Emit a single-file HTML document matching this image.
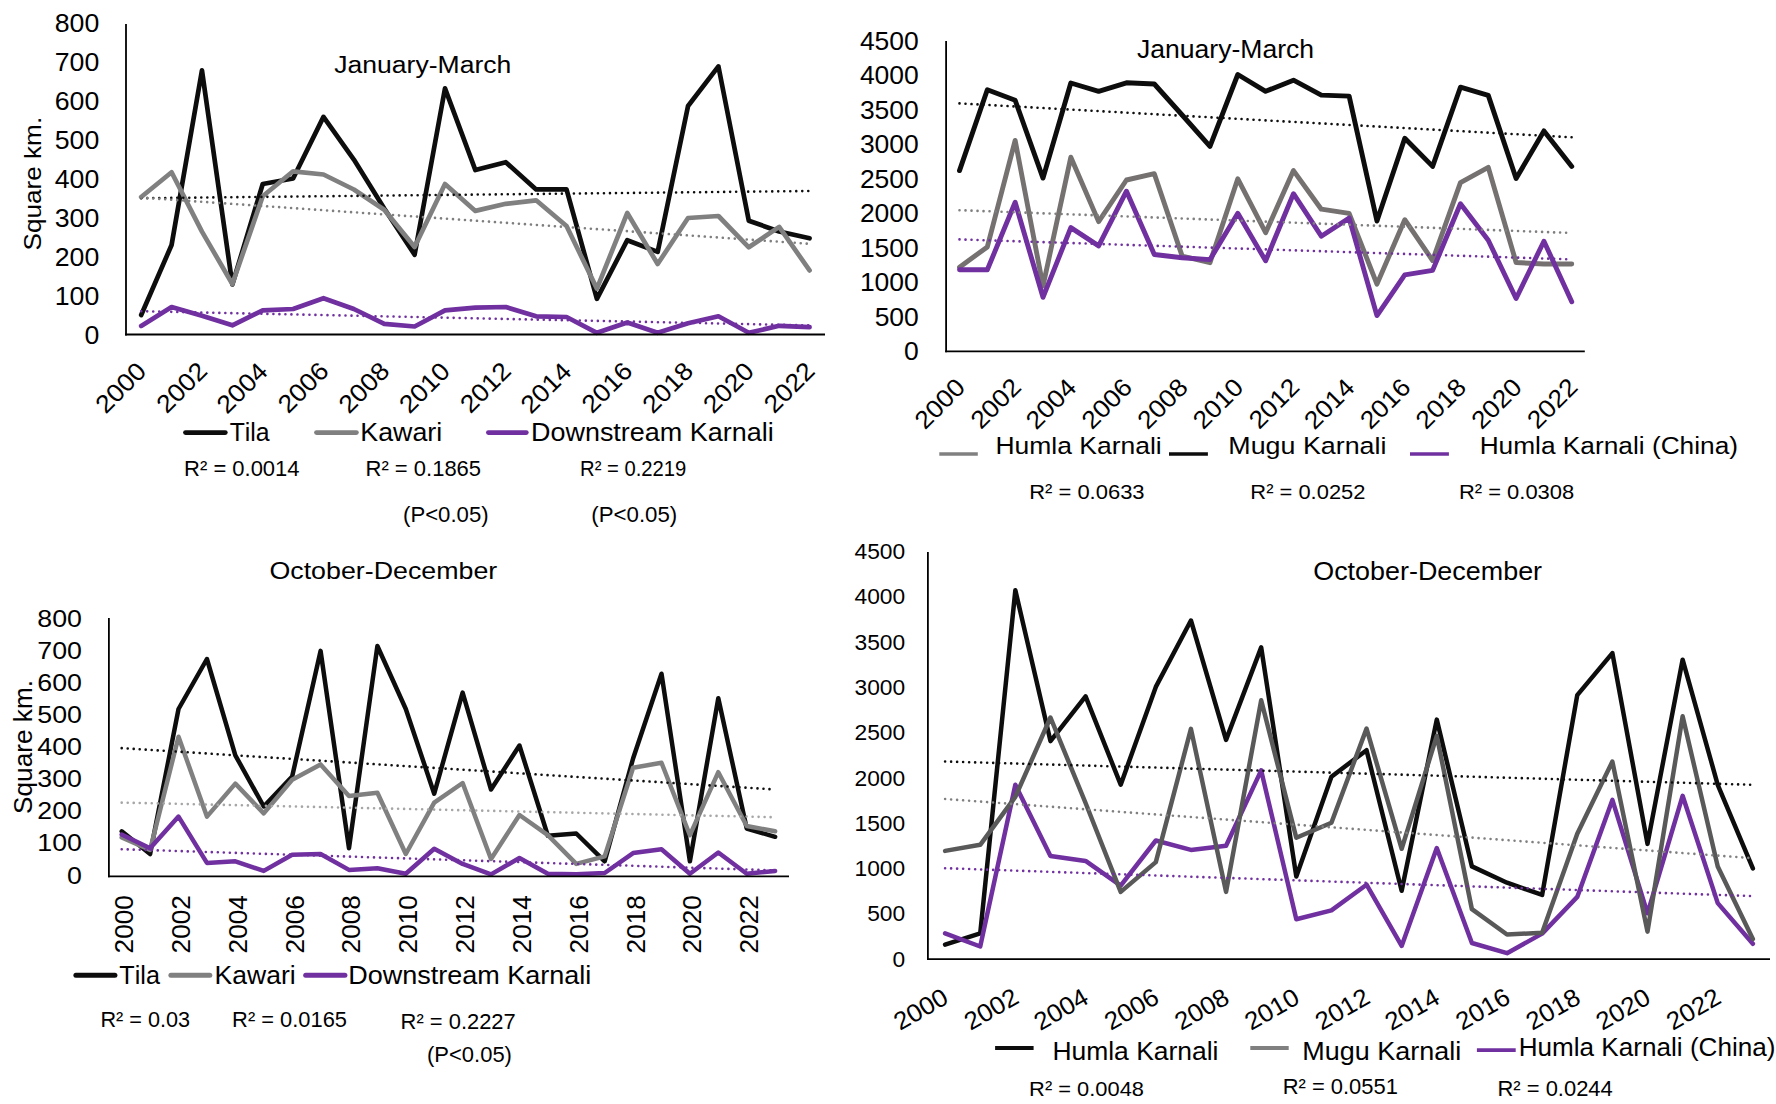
<!DOCTYPE html>
<html><head><meta charset="utf-8"><style>
html,body{margin:0;padding:0;background:#fff;}
svg{display:block;}
text{font-family:"Liberation Sans",sans-serif;font-kerning:none;}
</style></head><body>
<svg width="1776" height="1104" viewBox="0 0 1776 1104">
<rect width="1776" height="1104" fill="#fff"/>
<polyline points="141.20,315.00 171.58,245.00 201.96,70.40 232.34,284.50 262.72,184.00 293.10,178.50 323.48,116.90 353.86,159.60 384.24,208.50 414.62,254.70 445.00,88.40 475.38,170.10 505.76,162.20 536.14,189.40 566.52,189.40 596.90,298.80 627.28,240.20 657.66,251.90 688.04,106.00 718.42,66.40 748.80,220.70 779.18,231.50 809.56,238.30" fill="none" stroke="#0d0d0d" stroke-width="4.7" stroke-linejoin="round" stroke-linecap="round"/>
<polyline points="141.20,197.00 171.58,172.30 201.96,231.60 232.34,284.00 262.72,196.30 293.10,171.30 323.48,174.50 353.86,189.50 384.24,209.80 414.62,247.00 445.00,184.00 475.38,210.90 505.76,203.80 536.14,200.30 566.52,226.00 596.90,288.60 627.28,213.00 657.66,264.00 688.04,218.00 718.42,216.00 748.80,247.30 779.18,226.90 809.56,270.40" fill="none" stroke="#808080" stroke-width="4.7" stroke-linejoin="round" stroke-linecap="round"/>
<polyline points="141.20,325.90 171.58,307.10 201.96,315.80 232.34,325.30 262.72,310.40 293.10,309.00 323.48,298.20 353.86,309.00 384.24,323.90 414.62,326.50 445.00,310.40 475.38,307.60 505.76,307.00 536.14,316.30 566.52,317.00 596.90,332.80 627.28,322.50 657.66,332.80 688.04,323.30 718.42,316.30 748.80,332.80 779.18,325.80 809.56,327.10" fill="none" stroke="#7030a0" stroke-width="4.7" stroke-linejoin="round" stroke-linecap="round"/>
<line x1="141.20" y1="198.20" x2="809.56" y2="191.00" stroke="#0d0d0d" stroke-width="2.6" stroke-linecap="round" stroke-dasharray="0.01 6.0"/>
<line x1="141.20" y1="197.60" x2="809.56" y2="243.80" stroke="#7f7f7f" stroke-width="2.6" stroke-linecap="round" stroke-dasharray="0.01 6.0"/>
<line x1="141.20" y1="311.20" x2="809.56" y2="325.40" stroke="#7030a0" stroke-width="2.6" stroke-linecap="round" stroke-dasharray="0.01 6.0"/>
<line x1="126.00" y1="24.10" x2="126.00" y2="335.40" stroke="#000" stroke-width="1.8" stroke-linecap="butt"/>
<line x1="125.10" y1="334.50" x2="825.00" y2="334.50" stroke="#000" stroke-width="1.8" stroke-linecap="butt"/>
<text transform="translate(54.74,31.60) scale(1.0667,1)" font-size="25.06" fill="#000">800</text>
<text transform="translate(54.74,70.59) scale(1.0667,1)" font-size="25.06" fill="#000">700</text>
<text transform="translate(54.74,109.58) scale(1.0667,1)" font-size="25.06" fill="#000">600</text>
<text transform="translate(54.74,148.57) scale(1.0667,1)" font-size="25.06" fill="#000">500</text>
<text transform="translate(54.74,187.56) scale(1.0667,1)" font-size="25.06" fill="#000">400</text>
<text transform="translate(54.74,226.55) scale(1.0667,1)" font-size="25.06" fill="#000">300</text>
<text transform="translate(54.74,265.54) scale(1.0667,1)" font-size="25.06" fill="#000">200</text>
<text transform="translate(54.74,304.53) scale(1.0667,1)" font-size="25.06" fill="#000">100</text>
<text transform="translate(84.48,343.52) scale(1.0667,1)" font-size="25.06" fill="#000">0</text>
<text transform="translate(105.78,414.72) rotate(-45) scale(1.0667,1)" font-size="25.06" fill="#000">2000</text>
<text transform="translate(166.76,414.50) rotate(-45) scale(1.0667,1)" font-size="25.06" fill="#000">2002</text>
<text transform="translate(227.12,414.90) rotate(-45) scale(1.0667,1)" font-size="25.06" fill="#000">2004</text>
<text transform="translate(288.16,414.62) rotate(-45) scale(1.0667,1)" font-size="25.06" fill="#000">2006</text>
<text transform="translate(348.91,414.63) rotate(-45) scale(1.0667,1)" font-size="25.06" fill="#000">2008</text>
<text transform="translate(409.58,414.72) rotate(-45) scale(1.0667,1)" font-size="25.06" fill="#000">2010</text>
<text transform="translate(470.56,414.50) rotate(-45) scale(1.0667,1)" font-size="25.06" fill="#000">2012</text>
<text transform="translate(530.92,414.90) rotate(-45) scale(1.0667,1)" font-size="25.06" fill="#000">2014</text>
<text transform="translate(591.96,414.62) rotate(-45) scale(1.0667,1)" font-size="25.06" fill="#000">2016</text>
<text transform="translate(652.71,414.63) rotate(-45) scale(1.0667,1)" font-size="25.06" fill="#000">2018</text>
<text transform="translate(713.38,414.72) rotate(-45) scale(1.0667,1)" font-size="25.06" fill="#000">2020</text>
<text transform="translate(774.36,414.50) rotate(-45) scale(1.0667,1)" font-size="25.06" fill="#000">2022</text>
<text transform="translate(40.50,250.49) rotate(-90) scale(1.0642,1)" font-size="24.56" fill="#000">Square km.</text>
<text transform="translate(334.28,72.60) scale(1.0878,1)" font-size="24.42" fill="#000">January-March</text>
<line x1="185.50" y1="432.60" x2="225.30" y2="432.60" stroke="#0d0d0d" stroke-width="4.8" stroke-linecap="round"/>
<line x1="316.50" y1="432.60" x2="356.40" y2="432.60" stroke="#808080" stroke-width="4.8" stroke-linecap="round"/>
<line x1="488.40" y1="432.60" x2="526.30" y2="432.60" stroke="#7030a0" stroke-width="4.8" stroke-linecap="round"/>
<text transform="translate(229.64,440.90) scale(0.9585,1)" font-size="25.87" fill="#000">Tila</text>
<text transform="translate(360.30,440.90) scale(1.0357,1)" font-size="25.87" fill="#000">Kawari</text>
<text transform="translate(530.99,440.90) scale(1.0425,1)" font-size="25.87" fill="#000">Downstream Karnali</text>
<text transform="translate(184.10,475.80) scale(0.9754,1)" font-size="22.53" fill="#000">R² = 0.0014</text>
<text transform="translate(365.49,475.80) scale(0.9770,1)" font-size="22.53" fill="#000">R² = 0.1865</text>
<text transform="translate(580.04,475.80) scale(0.8983,1)" font-size="22.53" fill="#000">R² = 0.2219</text>
<text transform="translate(403.03,521.80) scale(0.9969,1)" font-size="22.24" fill="#000">(P&lt;0.05)</text>
<text transform="translate(591.22,521.80) scale(1.0017,1)" font-size="22.24" fill="#000">(P&lt;0.05)</text>
<polyline points="959.50,267.20 987.33,246.90 1015.16,140.40 1042.99,286.00 1070.82,157.20 1098.65,221.60 1126.48,180.00 1154.31,173.70 1182.14,256.10 1209.97,262.70 1237.80,178.80 1265.63,232.70 1293.46,170.60 1321.29,209.20 1349.12,213.30 1376.95,284.10 1404.78,219.70 1432.61,260.50 1460.44,182.60 1488.27,167.40 1516.10,262.50 1543.93,264.00 1571.76,264.00" fill="none" stroke="#767171" stroke-width="4.9" stroke-linejoin="round" stroke-linecap="round"/>
<polyline points="959.50,170.60 987.33,89.70 1015.16,100.20 1042.99,178.10 1070.82,83.00 1098.65,91.30 1126.48,82.80 1154.31,84.00 1182.14,115.00 1209.97,146.40 1237.80,74.50 1265.63,91.30 1293.46,80.20 1321.29,95.10 1349.12,96.10 1376.95,221.00 1404.78,138.20 1432.61,166.40 1460.44,87.20 1488.27,95.40 1516.10,178.50 1543.93,130.90 1571.76,166.40" fill="none" stroke="#0d0d0d" stroke-width="4.9" stroke-linejoin="round" stroke-linecap="round"/>
<polyline points="959.50,269.80 987.33,269.80 1015.16,202.30 1042.99,297.30 1070.82,227.60 1098.65,245.90 1126.48,191.20 1154.31,254.50 1182.14,257.70 1209.97,259.60 1237.80,213.30 1265.63,260.80 1293.46,193.70 1321.29,236.20 1349.12,218.10 1376.95,315.60 1404.78,274.80 1432.61,270.40 1460.44,203.80 1488.27,240.30 1516.10,298.50 1543.93,241.20 1571.76,301.70" fill="none" stroke="#7030a0" stroke-width="4.9" stroke-linejoin="round" stroke-linecap="round"/>
<line x1="959.50" y1="103.40" x2="1571.76" y2="137.30" stroke="#0d0d0d" stroke-width="2.6" stroke-linecap="round" stroke-dasharray="0.01 6.0"/>
<line x1="959.50" y1="210.20" x2="1571.76" y2="233.00" stroke="#7f7f7f" stroke-width="2.6" stroke-linecap="round" stroke-dasharray="0.01 6.0"/>
<line x1="959.50" y1="239.40" x2="1571.76" y2="259.40" stroke="#7030a0" stroke-width="2.6" stroke-linecap="round" stroke-dasharray="0.01 6.0"/>
<line x1="946.10" y1="41.00" x2="946.10" y2="352.30" stroke="#000" stroke-width="1.8" stroke-linecap="butt"/>
<line x1="945.20" y1="351.40" x2="1584.80" y2="351.40" stroke="#000" stroke-width="1.8" stroke-linecap="butt"/>
<text transform="translate(859.89,49.70) scale(1.0572,1)" font-size="25.06" fill="#000">4500</text>
<text transform="translate(859.89,84.20) scale(1.0572,1)" font-size="25.06" fill="#000">4000</text>
<text transform="translate(859.89,118.70) scale(1.0572,1)" font-size="25.06" fill="#000">3500</text>
<text transform="translate(859.89,153.20) scale(1.0572,1)" font-size="25.06" fill="#000">3000</text>
<text transform="translate(859.89,187.70) scale(1.0572,1)" font-size="25.06" fill="#000">2500</text>
<text transform="translate(859.89,222.20) scale(1.0572,1)" font-size="25.06" fill="#000">2000</text>
<text transform="translate(859.89,256.70) scale(1.0572,1)" font-size="25.06" fill="#000">1500</text>
<text transform="translate(859.89,291.20) scale(1.0572,1)" font-size="25.06" fill="#000">1000</text>
<text transform="translate(874.63,325.70) scale(1.0572,1)" font-size="25.06" fill="#000">500</text>
<text transform="translate(904.10,360.20) scale(1.0572,1)" font-size="25.06" fill="#000">0</text>
<text transform="translate(925.05,430.55) rotate(-45) scale(1.0572,1)" font-size="25.06" fill="#000">2000</text>
<text transform="translate(980.92,430.34) rotate(-45) scale(1.0572,1)" font-size="25.06" fill="#000">2002</text>
<text transform="translate(1036.19,430.73) rotate(-45) scale(1.0572,1)" font-size="25.06" fill="#000">2004</text>
<text transform="translate(1092.12,430.46) rotate(-45) scale(1.0572,1)" font-size="25.06" fill="#000">2006</text>
<text transform="translate(1147.78,430.46) rotate(-45) scale(1.0572,1)" font-size="25.06" fill="#000">2008</text>
<text transform="translate(1203.35,430.55) rotate(-45) scale(1.0572,1)" font-size="25.06" fill="#000">2010</text>
<text transform="translate(1259.22,430.34) rotate(-45) scale(1.0572,1)" font-size="25.06" fill="#000">2012</text>
<text transform="translate(1314.49,430.73) rotate(-45) scale(1.0572,1)" font-size="25.06" fill="#000">2014</text>
<text transform="translate(1370.42,430.46) rotate(-45) scale(1.0572,1)" font-size="25.06" fill="#000">2016</text>
<text transform="translate(1426.08,430.46) rotate(-45) scale(1.0572,1)" font-size="25.06" fill="#000">2018</text>
<text transform="translate(1481.65,430.55) rotate(-45) scale(1.0572,1)" font-size="25.06" fill="#000">2020</text>
<text transform="translate(1537.52,430.34) rotate(-45) scale(1.0572,1)" font-size="25.06" fill="#000">2022</text>
<text transform="translate(1136.98,58.40) scale(1.0693,1)" font-size="24.86" fill="#000">January-March</text>
<line x1="939.30" y1="454.00" x2="977.80" y2="454.00" stroke="#808080" stroke-width="3.7" stroke-linecap="butt"/>
<line x1="1169.00" y1="454.00" x2="1207.90" y2="454.00" stroke="#0d0d0d" stroke-width="3.7" stroke-linecap="butt"/>
<line x1="1410.00" y1="454.00" x2="1448.90" y2="454.00" stroke="#7030a0" stroke-width="3.7" stroke-linecap="butt"/>
<text transform="translate(995.43,453.80) scale(1.0790,1)" font-size="24.56" fill="#000">Humla Karnali</text>
<text transform="translate(1228.30,453.80) scale(1.0931,1)" font-size="24.56" fill="#000">Mugu Karnali</text>
<text transform="translate(1479.64,453.80) scale(1.0701,1)" font-size="24.56" fill="#000">Humla Karnali (China)</text>
<text transform="translate(1029.20,498.50) scale(1.0575,1)" font-size="20.79" fill="#000">R² = 0.0633</text>
<text transform="translate(1250.30,498.50) scale(1.0550,1)" font-size="20.79" fill="#000">R² = 0.0252</text>
<text transform="translate(1458.90,498.50) scale(1.0564,1)" font-size="20.79" fill="#000">R² = 0.0308</text>
<polyline points="121.70,831.30 150.11,854.00 178.52,709.00 206.93,659.00 235.34,755.30 263.75,806.50 292.16,776.50 320.57,650.90 348.98,848.20 377.39,646.00 405.80,709.00 434.21,793.70 462.62,692.60 491.03,789.50 519.44,745.50 547.85,835.80 576.26,833.50 604.67,861.30 633.08,758.50 661.49,673.70 689.90,861.30 718.31,698.20 746.72,828.60 775.13,836.80" fill="none" stroke="#0d0d0d" stroke-width="4.5" stroke-linejoin="round" stroke-linecap="round"/>
<polyline points="121.70,837.50 150.11,849.90 178.52,736.70 206.93,816.60 235.34,783.60 263.75,813.40 292.16,779.70 320.57,764.40 348.98,796.00 377.39,792.80 405.80,854.00 434.21,802.60 462.62,783.00 491.03,859.00 519.44,815.00 547.85,835.20 576.26,863.90 604.67,856.40 633.08,767.70 661.49,762.80 689.90,835.20 718.31,772.20 746.72,826.00 775.13,831.30" fill="none" stroke="#808080" stroke-width="4.5" stroke-linejoin="round" stroke-linecap="round"/>
<polyline points="121.70,834.50 150.11,848.20 178.52,816.60 206.93,862.90 235.34,861.30 263.75,870.90 292.16,854.70 320.57,854.00 348.98,869.90 377.39,868.20 405.80,873.80 434.21,848.70 462.62,863.90 491.03,874.40 519.44,858.00 547.85,873.80 576.26,874.30 604.67,873.00 633.08,853.10 661.49,849.20 689.90,873.70 718.31,852.50 746.72,873.70 775.13,870.90" fill="none" stroke="#7030a0" stroke-width="4.5" stroke-linejoin="round" stroke-linecap="round"/>
<line x1="121.70" y1="748.10" x2="775.13" y2="789.50" stroke="#0d0d0d" stroke-width="2.6" stroke-linecap="round" stroke-dasharray="0.01 6.0"/>
<line x1="121.70" y1="802.60" x2="775.13" y2="817.20" stroke="#a6a6a6" stroke-width="2.6" stroke-linecap="round" stroke-dasharray="0.01 6.0"/>
<line x1="121.70" y1="849.20" x2="775.13" y2="870.40" stroke="#7030a0" stroke-width="2.6" stroke-linecap="round" stroke-dasharray="0.01 6.0"/>
<line x1="108.90" y1="618.10" x2="108.90" y2="877.20" stroke="#000" stroke-width="1.8" stroke-linecap="butt"/>
<line x1="108.00" y1="876.30" x2="789.00" y2="876.30" stroke="#000" stroke-width="1.8" stroke-linecap="butt"/>
<text transform="translate(37.24,626.70) scale(1.0879,1)" font-size="24.63" fill="#000">800</text>
<text transform="translate(37.24,658.80) scale(1.0879,1)" font-size="24.63" fill="#000">700</text>
<text transform="translate(37.24,690.90) scale(1.0879,1)" font-size="24.63" fill="#000">600</text>
<text transform="translate(37.24,723.00) scale(1.0879,1)" font-size="24.63" fill="#000">500</text>
<text transform="translate(37.24,755.10) scale(1.0879,1)" font-size="24.63" fill="#000">400</text>
<text transform="translate(37.24,787.20) scale(1.0879,1)" font-size="24.63" fill="#000">300</text>
<text transform="translate(37.24,819.30) scale(1.0879,1)" font-size="24.63" fill="#000">200</text>
<text transform="translate(37.24,851.40) scale(1.0879,1)" font-size="24.63" fill="#000">100</text>
<text transform="translate(67.04,883.50) scale(1.0879,1)" font-size="24.63" fill="#000">0</text>
<text transform="translate(133.20,953.42) rotate(-90)" font-size="26.21" fill="#000">2000</text>
<text transform="translate(190.02,953.42) rotate(-90)" font-size="26.21" fill="#000">2002</text>
<text transform="translate(246.84,953.42) rotate(-90)" font-size="26.21" fill="#000">2004</text>
<text transform="translate(303.66,953.42) rotate(-90)" font-size="26.21" fill="#000">2006</text>
<text transform="translate(360.48,953.42) rotate(-90)" font-size="26.21" fill="#000">2008</text>
<text transform="translate(417.30,953.42) rotate(-90)" font-size="26.21" fill="#000">2010</text>
<text transform="translate(474.12,953.42) rotate(-90)" font-size="26.21" fill="#000">2012</text>
<text transform="translate(530.94,953.42) rotate(-90)" font-size="26.21" fill="#000">2014</text>
<text transform="translate(587.76,953.42) rotate(-90)" font-size="26.21" fill="#000">2016</text>
<text transform="translate(644.58,953.42) rotate(-90)" font-size="26.21" fill="#000">2018</text>
<text transform="translate(701.40,953.42) rotate(-90)" font-size="26.21" fill="#000">2020</text>
<text transform="translate(758.22,953.42) rotate(-90)" font-size="26.21" fill="#000">2022</text>
<text transform="translate(31.80,813.99) rotate(-90) scale(1.0368,1)" font-size="25.29" fill="#000">Square km.</text>
<text transform="translate(269.43,579.00) scale(1.0848,1)" font-size="24.71" fill="#000">October-December</text>
<line x1="75.90" y1="975.30" x2="114.90" y2="975.30" stroke="#0d0d0d" stroke-width="5" stroke-linecap="round"/>
<line x1="170.90" y1="975.30" x2="209.80" y2="975.30" stroke="#808080" stroke-width="5" stroke-linecap="round"/>
<line x1="305.70" y1="975.30" x2="344.90" y2="975.30" stroke="#7030a0" stroke-width="5" stroke-linecap="round"/>
<text transform="translate(119.33,983.70) scale(0.9785,1)" font-size="25.73" fill="#000">Tila</text>
<text transform="translate(214.52,983.70) scale(1.0322,1)" font-size="25.73" fill="#000">Kawari</text>
<text transform="translate(348.28,983.70) scale(1.0497,1)" font-size="25.73" fill="#000">Downstream Karnali</text>
<text transform="translate(100.42,1026.80) scale(0.9807,1)" font-size="22.09" fill="#000">R² = 0.03</text>
<text transform="translate(232.10,1026.80) scale(0.9909,1)" font-size="22.09" fill="#000">R² = 0.0165</text>
<text transform="translate(400.60,1028.60) scale(0.9797,1)" font-size="22.38" fill="#000">R² = 0.2227</text>
<text transform="translate(427.04,1061.70) scale(0.9821,1)" font-size="22.38" fill="#000">(P&lt;0.05)</text>
<polyline points="945.10,944.60 980.22,933.40 1015.34,590.30 1050.46,741.10 1085.58,696.30 1120.70,784.70 1155.82,686.90 1190.94,620.50 1226.06,739.90 1261.18,647.40 1296.30,876.50 1331.42,776.70 1366.54,750.20 1401.66,890.80 1436.78,719.60 1471.90,866.40 1507.02,882.70 1542.14,894.90 1577.26,695.10 1612.38,653.10 1647.50,843.90 1682.62,659.70 1717.74,784.80 1752.86,868.40" fill="none" stroke="#0d0d0d" stroke-width="4.5" stroke-linejoin="round" stroke-linecap="round"/>
<polyline points="945.10,933.40 980.22,946.50 1015.34,784.70 1050.46,856.00 1085.58,860.90 1120.70,885.70 1155.82,840.50 1190.94,849.90 1226.06,845.80 1261.18,770.40 1296.30,919.30 1331.42,910.40 1366.54,884.70 1401.66,945.90 1436.78,848.00 1471.90,943.00 1507.02,953.20 1542.14,933.60 1577.26,896.90 1612.38,799.90 1647.50,913.30 1682.62,795.80 1717.74,903.10 1752.86,943.80" fill="none" stroke="#7030a0" stroke-width="4.5" stroke-linejoin="round" stroke-linecap="round"/>
<polyline points="945.10,850.90 980.22,844.80 1015.34,796.90 1050.46,717.50 1085.58,803.00 1120.70,891.90 1155.82,862.10 1190.94,728.90 1226.06,891.90 1261.18,700.30 1296.30,837.70 1331.42,822.70 1366.54,728.60 1401.66,848.80 1436.78,735.90 1471.90,909.20 1507.02,934.50 1542.14,932.80 1577.26,833.70 1612.38,761.60 1647.50,931.60 1682.62,716.30 1717.74,866.40 1752.86,938.90" fill="none" stroke="#595959" stroke-width="4.5" stroke-linejoin="round" stroke-linecap="round"/>
<line x1="945.10" y1="761.50" x2="1752.86" y2="784.80" stroke="#0d0d0d" stroke-width="2.6" stroke-linecap="round" stroke-dasharray="0.01 6.0"/>
<line x1="945.10" y1="799.00" x2="1752.86" y2="858.20" stroke="#808080" stroke-width="2.6" stroke-linecap="round" stroke-dasharray="0.01 6.0"/>
<line x1="945.10" y1="868.20" x2="1752.86" y2="896.10" stroke="#7030a0" stroke-width="2.6" stroke-linecap="round" stroke-dasharray="0.01 6.0"/>
<line x1="927.90" y1="552.00" x2="927.90" y2="960.10" stroke="#000" stroke-width="1.8" stroke-linecap="butt"/>
<line x1="927.00" y1="959.20" x2="1770.00" y2="959.20" stroke="#000" stroke-width="1.8" stroke-linecap="butt"/>
<text transform="translate(854.48,559.00) scale(1.0074,1)" font-size="22.63" fill="#000">4500</text>
<text transform="translate(854.48,604.30) scale(1.0074,1)" font-size="22.63" fill="#000">4000</text>
<text transform="translate(854.48,649.60) scale(1.0074,1)" font-size="22.63" fill="#000">3500</text>
<text transform="translate(854.48,694.90) scale(1.0074,1)" font-size="22.63" fill="#000">3000</text>
<text transform="translate(854.48,740.20) scale(1.0074,1)" font-size="22.63" fill="#000">2500</text>
<text transform="translate(854.48,785.50) scale(1.0074,1)" font-size="22.63" fill="#000">2000</text>
<text transform="translate(854.48,830.80) scale(1.0074,1)" font-size="22.63" fill="#000">1500</text>
<text transform="translate(854.48,876.10) scale(1.0074,1)" font-size="22.63" fill="#000">1000</text>
<text transform="translate(867.16,921.40) scale(1.0074,1)" font-size="22.63" fill="#000">500</text>
<text transform="translate(892.51,966.70) scale(1.0074,1)" font-size="22.63" fill="#000">0</text>
<text transform="translate(899.90,1031.10) rotate(-30) scale(1.0371,1)" font-size="25.06" fill="#000">2000</text>
<text transform="translate(970.40,1030.96) rotate(-30) scale(1.0371,1)" font-size="25.06" fill="#000">2002</text>
<text transform="translate(1040.16,1031.23) rotate(-30) scale(1.0371,1)" font-size="25.06" fill="#000">2004</text>
<text transform="translate(1110.73,1031.04) rotate(-30) scale(1.0371,1)" font-size="25.06" fill="#000">2006</text>
<text transform="translate(1180.96,1031.05) rotate(-30) scale(1.0371,1)" font-size="25.06" fill="#000">2008</text>
<text transform="translate(1251.10,1031.10) rotate(-30) scale(1.0371,1)" font-size="25.06" fill="#000">2010</text>
<text transform="translate(1321.60,1030.96) rotate(-30) scale(1.0371,1)" font-size="25.06" fill="#000">2012</text>
<text transform="translate(1391.36,1031.23) rotate(-30) scale(1.0371,1)" font-size="25.06" fill="#000">2014</text>
<text transform="translate(1461.93,1031.04) rotate(-30) scale(1.0371,1)" font-size="25.06" fill="#000">2016</text>
<text transform="translate(1532.16,1031.05) rotate(-30) scale(1.0371,1)" font-size="25.06" fill="#000">2018</text>
<text transform="translate(1602.30,1031.10) rotate(-30) scale(1.0371,1)" font-size="25.06" fill="#000">2020</text>
<text transform="translate(1672.80,1030.96) rotate(-30) scale(1.0371,1)" font-size="25.06" fill="#000">2022</text>
<text transform="translate(1313.23,579.70) scale(1.0343,1)" font-size="26.02" fill="#000">October-December</text>
<line x1="995.10" y1="1048.00" x2="1033.60" y2="1048.00" stroke="#0d0d0d" stroke-width="4.0" stroke-linecap="butt"/>
<line x1="1250.30" y1="1048.00" x2="1288.70" y2="1048.00" stroke="#808080" stroke-width="3.8" stroke-linecap="butt"/>
<line x1="1476.90" y1="1050.10" x2="1515.70" y2="1050.10" stroke="#7030a0" stroke-width="3.8" stroke-linecap="butt"/>
<text transform="translate(1052.43,1059.50) scale(1.0582,1)" font-size="25.00" fill="#000">Humla Karnali</text>
<text transform="translate(1302.19,1059.70) scale(1.0484,1)" font-size="25.73" fill="#000">Mugu Karnali</text>
<text transform="translate(1518.66,1055.70) scale(1.0392,1)" font-size="25.15" fill="#000">Humla Karnali (China)</text>
<text transform="translate(1029.11,1096.20) scale(1.0454,1)" font-size="20.93" fill="#000">R² = 0.0048</text>
<text transform="translate(1282.70,1094.30) scale(0.9923,1)" font-size="22.09" fill="#000">R² = 0.0551</text>
<text transform="translate(1497.50,1095.60) scale(1.0337,1)" font-size="21.22" fill="#000">R² = 0.0244</text>
</svg></body></html>
